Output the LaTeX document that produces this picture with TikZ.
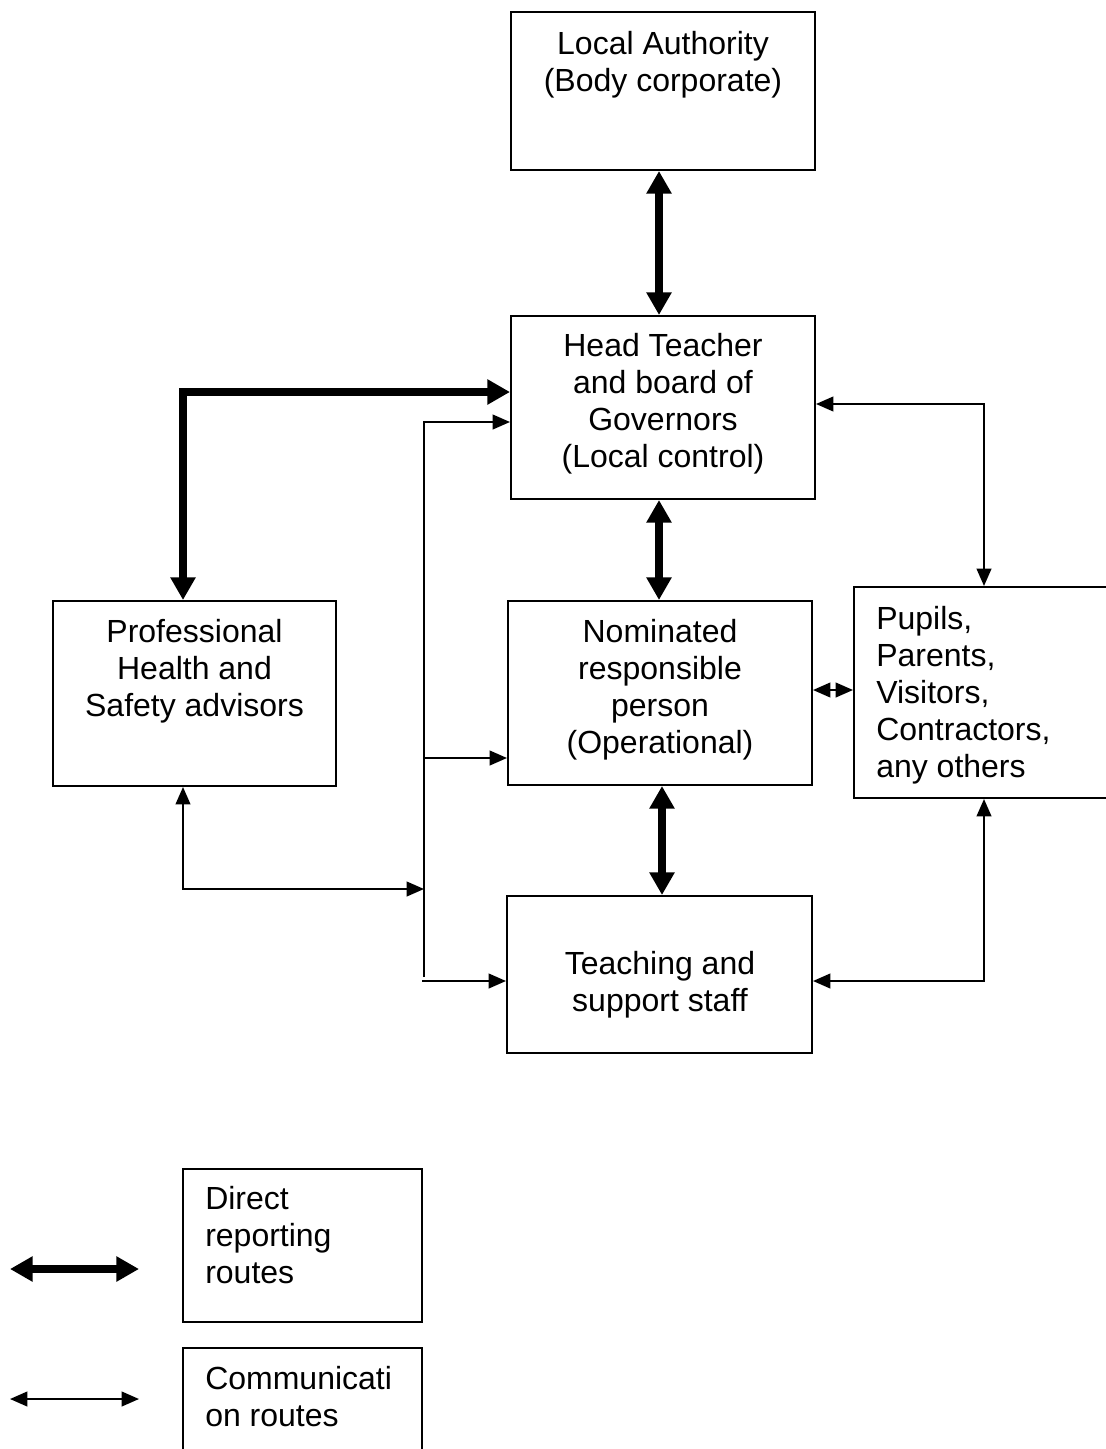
\documentclass[tikz,border=0pt]{standalone}
\usepackage{fontspec}
\setmainfont{Liberation Sans}
\usetikzlibrary{arrows.meta}
\begin{document}
\begin{tikzpicture}[x=0.75pt,y=-0.75pt,
  box/.style={draw,line width=1.5pt,inner sep=0pt,fill=none},
  txt/.style={inner sep=0pt,font=\fontsize{24}{27.75}\selectfont},
  thk/.style={line width=6pt,{Triangle[length=17pt,width=18pt]}-{Triangle[length=17pt,width=18pt]}},
  thn/.style={line width=1.5pt},
  tip/.style={-{Triangle[length=13pt,width=11pt]}},
  tips/.style={{Triangle[length=13pt,width=11pt]}-{Triangle[length=13pt,width=11pt]}}]
\useasboundingbox (0,0) rectangle (1106,1449);
\newcommand\boxat[5]{\node[box,minimum width=#4*0.75pt,minimum height=#5*0.75pt] (#1) at (#2,#3) {};}
% boxes
\boxat{la}{663}{91}{304}{158}
\boxat{ht}{663}{407.5}{304}{183}
\boxat{phs}{194.5}{693.5}{283}{185}
\boxat{nrp}{660}{693}{304}{184}
\boxat{pup}{992}{692.5}{276}{211}
\boxat{tss}{659.5}{974.5}{305}{157}
\boxat{lega}{302.5}{1245.5}{239}{153}
\boxat{legb}{302.5}{1414}{239}{132}
% texts
\node[txt,align=center] (tla) at (663,64.5) {Local Authority\\(Body corporate)};
\node[txt,align=center] (tht) at (663,404) {Head Teacher\\and board of\\Governors\\(Local control)};
\node[txt,align=center] (tphs) at (194.5,671.5) {Professional\\Health and\\Safety advisors};
\node[txt,align=center] (tnrp) at (660,690) {Nominated\\responsible\\person\\(Operational)};
\node[txt,align=left,anchor=west] (tpup) at (876,695) {Pupils,\\Parents,\\Visitors,\\Contractors,\\any others};
\node[txt,align=center] (ttss) at (660,985) {Teaching and\\support staff};
\node[txt,align=left,anchor=west] (tlega) at (205,1235) {Direct\\reporting\\routes};
\node[txt,align=left,anchor=west] (tlegb) at (205,1396.5) {Communicati\\on routes};
% thick connectors
\draw[thk] (la.south -| 659,0) -- (ht.north -| 659,0);
\draw[thk] (ht.south -| 659,0) -- (nrp.north -| 659,0);
\draw[thk] (nrp.south -| 662,0) -- (tss.north -| 662,0);
\draw[thk,line join=miter] (phs.north -| 183,0) |- (ht.west |- 0,392);
% thin bus on the left
\coordinate (bustop) at (424,422);
\coordinate (busbot) at (424,977);
\coordinate (busmid) at (423,758);
\coordinate (buslow) at (422,981);
\coordinate (busphs) at (424,889);
\draw[thn,tip] (busbot) -- (bustop) -- (bustop -| ht.west);
\draw[thn,tip] (busmid) -- (busmid -| nrp.west);
\draw[thn,tip] (buslow) -- (buslow -| tss.west);
\draw[thn,tips] (phs.south -| 183,0) |- (busphs);
% right side
\draw[thn,tips] (ht.east |- 0,404) -| (pup.north -| 984,0);
\draw[thn,tips] (nrp.east |- 0,690) -- (pup.west |- 0,690);
\draw[thn,tips] (tss.east |- 0,981) -| (pup.south -| 984,0);
% legend arrows
\coordinate (l1a) at (10,1269);
\coordinate (l1b) at (139,1269);
\coordinate (l2a) at (10,1399);
\coordinate (l2b) at (139,1399);
\draw[thk] (l1a) -- (l1b);
\draw[thn,tips] (l2a) -- (l2b);
\end{tikzpicture}
\end{document}
